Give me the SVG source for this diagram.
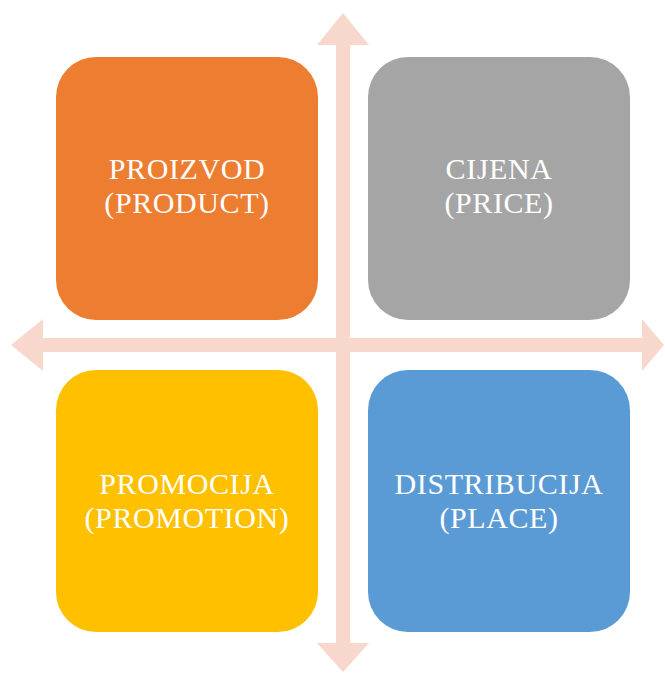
<svg xmlns="http://www.w3.org/2000/svg" width="665" height="673" viewBox="0 0 665 673">
<style>
.t{font-family:"Liberation Serif","Times New Roman",serif;font-size:30px;letter-spacing:0.6px;fill:#fff;text-anchor:middle}
.a{fill:#F8D7CC}
</style>
<rect width="665" height="673" fill="#fff"/>
<g id="connectors">
<polygon class="a" points="343,13 369,45 350,45 350,643 369,643 343,672 317,643 336,643 336,45 317,45"/>
<polygon class="a" points="11,345 43,319 43,338 642,338 642,319 664,345 642,371 642,352 43,352 43,371"/>
</g>
<g id="product">
<rect x="56" y="57" width="262" height="263" rx="40" fill="#ED7D31"/>
<text class="t" x="187" y="179">PROIZVOD</text>
<text class="t" x="187" y="213">(PRODUCT)</text>
</g>
<g id="price">
<rect x="368" y="57" width="262" height="263" rx="40" fill="#A5A5A5"/>
<text class="t" x="499" y="179">CIJENA</text>
<text class="t" x="499" y="213">(PRICE)</text>
</g>
<g id="promotion">
<rect x="56" y="370" width="262" height="262" rx="40" fill="#FFC000"/>
<text class="t" x="187" y="494">PROMOCIJA</text>
<text class="t" x="187" y="528">(PROMOTION)</text>
</g>
<g id="place">
<rect x="368" y="370" width="262" height="262" rx="40" fill="#5B9BD5"/>
<text class="t" x="499" y="494">DISTRIBUCIJA</text>
<text class="t" x="499" y="528">(PLACE)</text>
</g>
</svg>
